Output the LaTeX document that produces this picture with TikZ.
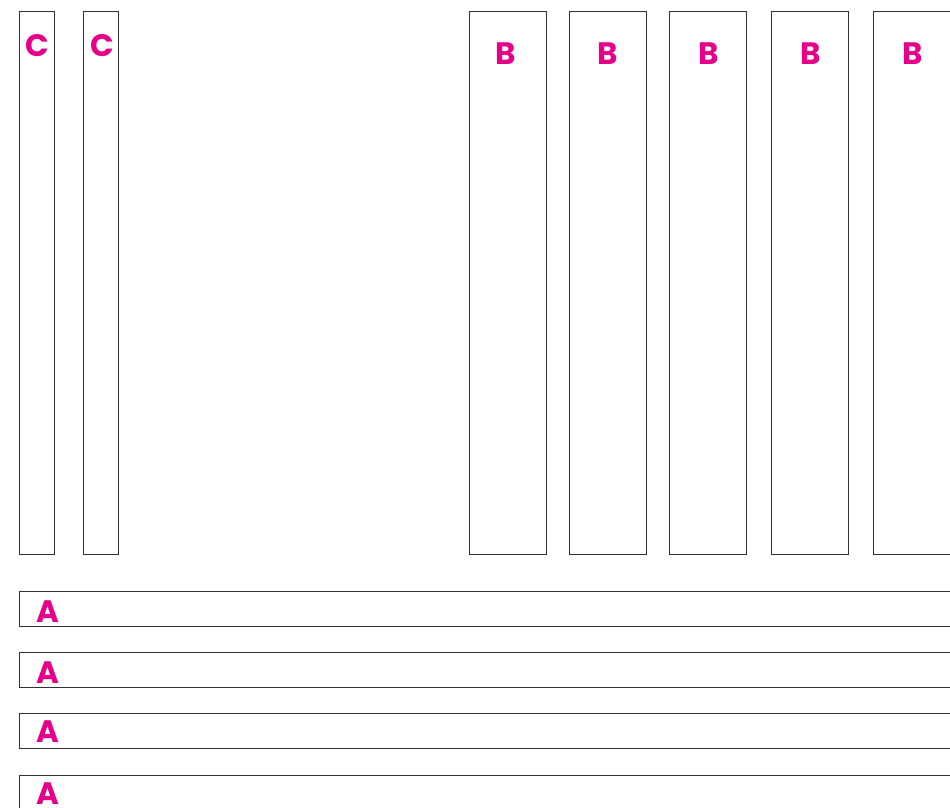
\documentclass[tikz,border=0pt]{standalone}
\usepackage{fontspec}
\setmainfont{Poppins}
\definecolor{lblpink}{RGB}{230,0,137}
\definecolor{boxline}{RGB}{50,50,50}
\tikzset{
  panel/.style={draw=boxline, line width=0.8pt, inner sep=0pt, anchor=north west, rectangle},
  lbl/.style={text=lblpink, font=\fontsize{31}{31}\selectfont\bfseries, inner sep=0pt, anchor=base}
}
\begin{document}
\begin{tikzpicture}[x=1pt,y=-1pt]
\useasboundingbox (0,0) rectangle (950,808);
\clip (0,0) rectangle (950,808);
% C columns
\node[panel, minimum width=35pt, minimum height=543pt] (c1) at (19,11) {};
\node[panel, minimum width=35pt, minimum height=543pt] (c2) at (83,11) {};
% B columns
\node[panel, minimum width=77pt, minimum height=543pt] (b1) at (469,11) {};
\node[panel, minimum width=77pt, minimum height=543pt] (b2) at (569,11) {};
\node[panel, minimum width=77pt, minimum height=543pt] (b3) at (669,11) {};
\node[panel, minimum width=77pt, minimum height=543pt] (b4) at (771,11) {};
\node[panel, minimum width=77pt, minimum height=543pt] (b5) at (873,11) {};
% A rows
\node[panel, minimum width=930.5pt, minimum height=35pt] (a1) at (19,591) {};
\node[panel, minimum width=930.5pt, minimum height=35pt] (a2) at (19,652) {};
\node[panel, minimum width=930.5pt, minimum height=35pt] (a3) at (19,713) {};
\node[panel, minimum width=930.5pt, minimum height=35pt] (a4) at (19,775) {};
% labels
\node[lbl] (lc1) at (37,57) {C};
\node[lbl] (lc2) at (102,57) {C};
\node[lbl] (lb1) at (505.5,64) {B};
\node[lbl] (lb2) at (607.5,64) {B};
\node[lbl] (lb3) at (708.5,64) {B};
\node[lbl] (lb4) at (810.5,64) {B};
\node[lbl] (lb5) at (913,64) {B};
\node[lbl] (la1) at (48,622) {A};
\node[lbl] (la2) at (48,683) {A};
\node[lbl] (la3) at (48,742) {A};
\node[lbl] (la4) at (48,804) {A};
\end{tikzpicture}
\end{document}
